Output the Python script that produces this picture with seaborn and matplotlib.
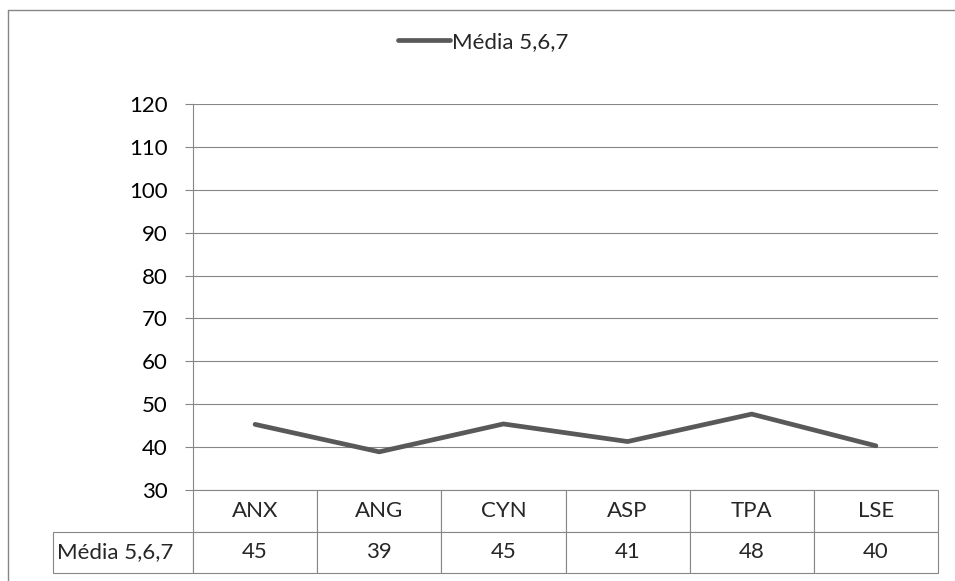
import matplotlib
matplotlib.use("Agg")
import matplotlib.pyplot as plt
import seaborn as sns
import pandas as pd
from matplotlib.lines import Line2D

# data
categories = ["ANX", "ANG", "CYN", "ASP", "TPA", "LSE"]
media_567 = [45.3, 38.9, 45.4, 41.3, 47.7, 40.3]
series_name = "Média 5,6,7"
y_ticks = list(range(30, 121, 10))

line_color = "#595959"
grid_color = "#868686"
fam = ["Lato", "DejaVu Sans"]
fs = 16

sns.set_theme(style="white")
plt.rcParams["font.family"] = fam

df = pd.DataFrame({"cat": categories, "val": media_567})

fig = plt.figure(figsize=(9.55, 5.81), dpi=100)
W, H = 955, 581
ax = fig.add_axes([193 / W, (H - 490) / H, (938 - 193) / W, (490 - 104) / H])

sns.lineplot(data=df, x="cat", y="val", ax=ax, color=line_color, linewidth=3.4,
             sort=False, label=series_name, legend=False)

ax.set_xlim(-0.5, len(categories) - 0.5)
ax.set_ylim(30, 120)
ax.set_yticks(y_ticks)
ax.set_yticklabels([str(t) for t in y_ticks], fontsize=fs, color="black")
ax.set_xticks([])
ax.set_xlabel("")
ax.set_ylabel("")
ax.tick_params(axis="y", left=True, length=6, width=0.8, color=grid_color, pad=12)
for t in y_ticks:
    ax.axhline(t, color=grid_color, linewidth=0.8, zorder=0)
for s in ["top", "right", "bottom"]:
    ax.spines[s].set_visible(False)
ax.spines["left"].set_color(grid_color)
ax.spines["left"].set_linewidth(0.8)

# data table below the axis
ax_h = 490 - 104
ax_w = 938 - 193
label_w = 193 - 53
colw = [label_w] + [ax_w / len(categories)] * len(categories)
tot = sum(colw)
tab = ax.table(cellText=[[series_name] + [f"{v:.0f}" for v in media_567]],
               colLabels=[""] + categories,
               colWidths=[c / tot for c in colw],
               cellLoc="center",
               bbox=[-label_w / ax_w, -83 / ax_h, tot / ax_w, 83 / ax_h])
tab.auto_set_font_size(False)
for (r, c), cell in tab.get_celld().items():
    cell.set_edgecolor(grid_color)
    cell.set_linewidth(0.8)
    cell.get_text().set_fontsize(fs)
    cell.get_text().set_fontfamily(fam)
    if r == 0 and c == 0:
        cell.visible_edges = ""
    if r == 1 and c == 0:
        cell.get_text().set_ha("left")
        cell.PAD = 0.03

# legend at the top
fig.legend(handles=ax.get_lines()[:1], labels=[series_name], loc="center",
           bbox_to_anchor=(483 / W, 1 - 42 / H), frameon=False, fontsize=fs,
           handlelength=2.35, handletextpad=0.1)

# chart-area border: top and left edges only
for xs, ys in [([8, W], [10, 10]), ([8, 8], [10, H])]:
    fig.add_artist(Line2D([x / W for x in xs], [1 - y / H for y in ys],
                          transform=fig.transFigure, color=grid_color, linewidth=1.0))

fig.savefig("out.png", dpi=100)
